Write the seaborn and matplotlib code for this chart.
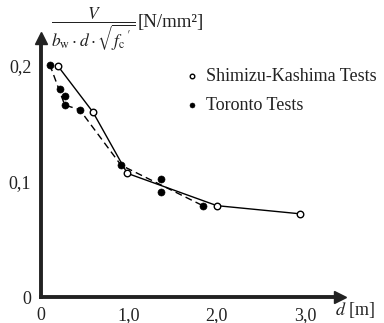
import matplotlib
matplotlib.use("Agg")
import matplotlib.pyplot as plt
import seaborn as sns
import pandas as pd

# ============================================
# DATA
# ============================================

shimizu_d = [0.19, 0.59, 0.98, 2.00, 2.94]
shimizu_v = [0.200, 0.160, 0.107, 0.079, 0.072]

toronto_d = [0.10, 0.22, 0.27, 0.27, 0.44, 0.91, 1.37, 1.37, 1.84]
toronto_v = [0.201, 0.180, 0.174, 0.166, 0.162, 0.114, 0.102, 0.091, 0.079]

# dashed trend through the Toronto results
trend_d = [0.10, 0.27, 0.44, 0.91, 1.84]
trend_v = [0.201, 0.166, 0.162, 0.114, 0.079]

x_ticks = [0, 1, 2, 3]
x_labels = ["0", "1,0", "2,0", "3,0"]
y_ticks = [0, 0.1, 0.2]
y_labels = ["0", "0,1", "0,2"]

df_s = pd.DataFrame({"d": shimizu_d, "v": shimizu_v})
df_t = pd.DataFrame({"d": toronto_d, "v": toronto_v})
df_tr = pd.DataFrame({"d": trend_d, "v": trend_v})

# ============================================
# FIGURE
# ============================================

sns.set_style("white")
plt.rcParams["font.family"] = ["Liberation Serif", "DejaVu Serif"]
plt.rcParams["mathtext.fontset"] = "stix"

fig = plt.figure(figsize=(3.84, 3.23), dpi=100)
ax = fig.add_axes([41 / 384, 26 / 323, 299 / 384, 259 / 323])

sns.lineplot(data=df_s, x="d", y="v", color="black", linewidth=1.0,
             sort=False, ax=ax)
sns.lineplot(data=df_tr, x="d", y="v", color="black", linewidth=1.0,
             linestyle=(0, (5, 3)), sort=False, ax=ax)

sns.scatterplot(data=df_s, x="d", y="v", marker="o", s=22,
                facecolor="white", edgecolor="black", linewidth=1.0,
                zorder=5, label="Shimizu-Kashima Tests", ax=ax)
sns.scatterplot(data=df_t, x="d", y="v", marker="o", s=26,
                color="black", edgecolor="black", zorder=5,
                label="Toronto Tests", ax=ax)

ax.set_xlim(0, 3.4)
ax.set_ylim(0, 0.224)

ax.set_xticks(x_ticks)
ax.set_xticklabels(x_labels)
ax.set_yticks(y_ticks)
ax.set_yticklabels(y_labels)
ax.tick_params(direction="out", length=4, width=2, labelsize=13,
               color="#222222", labelcolor="#222222", pad=3)

ax.set_xlabel("")
ax.set_ylabel("")

for side in ["top", "right"]:
    ax.spines[side].set_visible(False)
for side in ["left", "bottom"]:
    ax.spines[side].set_linewidth(2.8)
    ax.spines[side].set_color("#222222")

# arrow heads
ax.plot(1, 0, marker=">", markersize=9, color="#222222",
        transform=ax.transAxes, clip_on=False)
ax.plot(0, 1, marker="^", markersize=9, color="#222222",
        transform=ax.transAxes, clip_on=False)

# axis titles
fig.text(335 / 384, 1 - 310 / 323, r"$d$ [m]", fontsize=13,
         va="center", ha="left", color="#222222")
fig.text(51 / 384, 1 - 29 / 323,
         r"$\dfrac{V}{b_\mathrm{w}\cdot d\cdot\sqrt{f_\mathrm{c}\,{}^{\prime}}}$",
         fontsize=12.5, va="center", ha="left", color="#222222")
fig.text(138 / 384, 1 - 22 / 323, "[N/mm²]", fontsize=13.5,
         va="center", ha="left", color="#222222")

leg = ax.legend(loc="upper left", bbox_to_anchor=(0.428, 0.946),
                frameon=False, fontsize=13, handlelength=0.8,
                handletextpad=0.35, labelspacing=0.65, markerscale=0.7)
for t in leg.get_texts():
    t.set_color("#222222")

fig.savefig("out.png", dpi=100)
